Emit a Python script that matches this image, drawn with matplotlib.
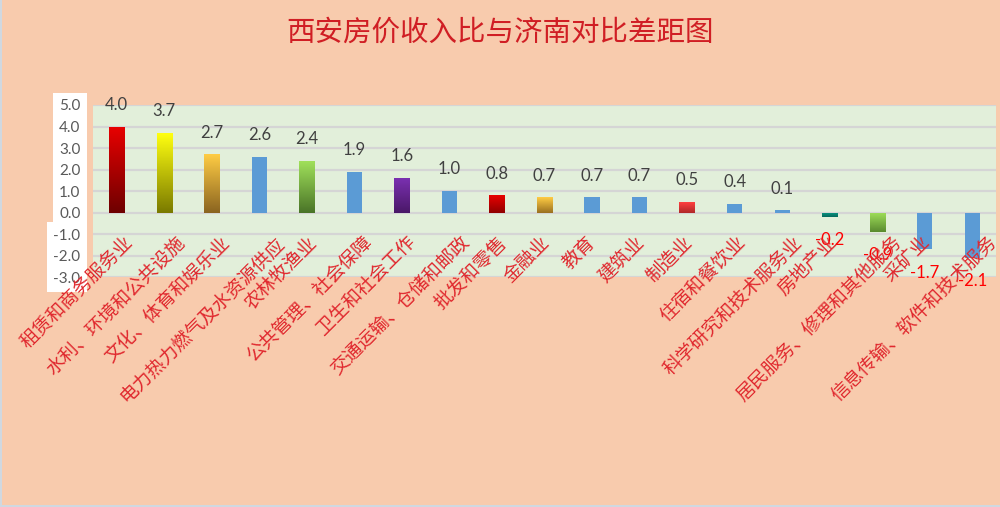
import numpy as np
import matplotlib

matplotlib.use("Agg")
import matplotlib.pyplot as plt
from matplotlib.colors import LinearSegmentedColormap
from matplotlib.patches import Rectangle
from matplotlib.transforms import offset_copy

plt.rcParams['font.family'] = ['Noto Sans CJK SC', 'DejaVu Sans']

# data: difference of house-price-to-income ratio, Xi'an vs Jinan, by industry
industries = [
    '租赁和商务服务业', '水利、环境和公共设施', '文化、体育和娱乐业',
    '电力热力燃气及水资源供应', '农林牧渔业', '公共管理、社会保障',
    '卫生和社会工作', '交通运输、仓储和邮政', '批发和零售', '金融业',
    '教育', '建筑业', '制造业', '住宿和餐饮业', '科学研究和技术服务业',
    '房地产业', '居民服务、修理和其他服务', '采矿业', '信息传输、软件和技术服务',
]
diff = [4.0, 3.7, 2.7, 2.6, 2.4, 1.9, 1.6, 1.0, 0.8, 0.7,
        0.7, 0.7, 0.5, 0.4, 0.1, -0.2, -0.9, -1.7, -2.1]
y_ticks = [-3, -2, -1, 0, 1, 2, 3, 4, 5]

# bar fills: colour at the upper end / lower end of each bar
blue = '#5B9BD5'
upper_colors = ['#E80000', '#FFFF10', '#FFCC44', blue, '#A0E05A', blue,
                '#7A30B0', blue, '#E80000', '#FFCC44', blue, blue,
                '#FF4040', blue, blue, '#0A9A88', '#A0E05A', blue, blue]
lower_colors = ['#6E0000', '#7A7A00', '#8A6420', blue, '#4A7428', blue,
                '#4A1868', blue, '#900000', '#9A7020', blue, blue,
                '#B02828', blue, blue, '#06685C', '#5A8A30', blue, blue]

bg = '#F8CBAD'
fig = plt.figure(figsize=(10, 5.07), dpi=100)
fig.patch.set_facecolor(bg)

# left / bottom frame strip of the screenshot
fig.add_artist(Rectangle((0, 0), 0.002, 1, transform=fig.transFigure,
                         color='#D0D8E0', lw=0))
fig.add_artist(Rectangle((0, 0), 1, 0.004, transform=fig.transFigure,
                         color='#D0D8E0', lw=0))

ax = fig.add_axes([0.093, 0.4536, 0.903, 0.3393])
ax.set_facecolor('#E2EFDA')

x = np.arange(len(industries))
bars = ax.bar(x, diff, width=0.32, color=blue, zorder=3, linewidth=0)

for bar, top_c, bot_c in zip(bars, upper_colors, lower_colors):
    if top_c == bot_c:
        continue
    bar.set_facecolor('none')
    x0 = bar.get_x()
    y0 = bar.get_y()
    h = bar.get_height()
    lo, hi = min(y0, y0 + h), max(y0, y0 + h)
    cmap = LinearSegmentedColormap.from_list('g', [bot_c, top_c])
    im = ax.imshow(np.linspace(0, 1, 100).reshape(-1, 1), cmap=cmap,
                   extent=(x0, x0 + bar.get_width(), lo, hi),
                   origin='lower', aspect='auto', zorder=3)
    im.set_clip_path(bar)

ax.set_xlim(-0.5, len(industries) - 0.5)
ax.set_ylim(-3, 5)
ax.set_yticks(y_ticks)
ax.set_yticklabels([f'{v:.1f}' for v in y_ticks], fontsize=11,
                   color='#595959', family=['Lato', 'DejaVu Sans'])
for lab in ax.get_yticklabels():
    lab.set_bbox(dict(boxstyle='square,pad=0.42', fc='white', ec='none'))
ax.tick_params(axis='y', length=0, pad=9)
ax.set_xticks([])
for s in ax.spines.values():
    s.set_visible(False)
ax.grid(axis='y', color='#D5D5D5', linewidth=1.6, zorder=1)
ax.set_axisbelow(True)

# value labels
for xi, v in zip(x, diff):
    if v >= 0:
        ax.annotate(f'{v:.1f}', (xi, v), xytext=(0, 15.6), textcoords='offset points',
                    ha='center', va='center', fontsize=12, color='#404040',
                    family=['Lato', 'DejaVu Sans'], zorder=5)
    else:
        ax.annotate(f'{v:.1f}', (xi, v), xytext=(0, -17), textcoords='offset points',
                    ha='center', va='center', fontsize=12, color='#FF0000',
                    family=['Lato', 'DejaVu Sans'], zorder=5)

# category labels, rotated, hanging below the zero line;
# longer labels sit a little further right of their bar
for xi, name in zip(x, industries):
    tr = offset_copy(ax.transData, fig=fig, x=1.58 * len(name) - 8.6, y=-14,
                     units='points')
    ax.text(xi, 0, name, transform=tr, rotation=45, rotation_mode='anchor',
            ha='right', va='top', fontsize=13.5, color='#E0282E', zorder=6,
            clip_on=False)

fig.text(0.5, 0.935, '西安房价收入比与济南对比差距图', ha='center', va='center',
         fontsize=20.5, color='#D01E24')

fig.savefig('out.png', dpi=100, facecolor=bg)
